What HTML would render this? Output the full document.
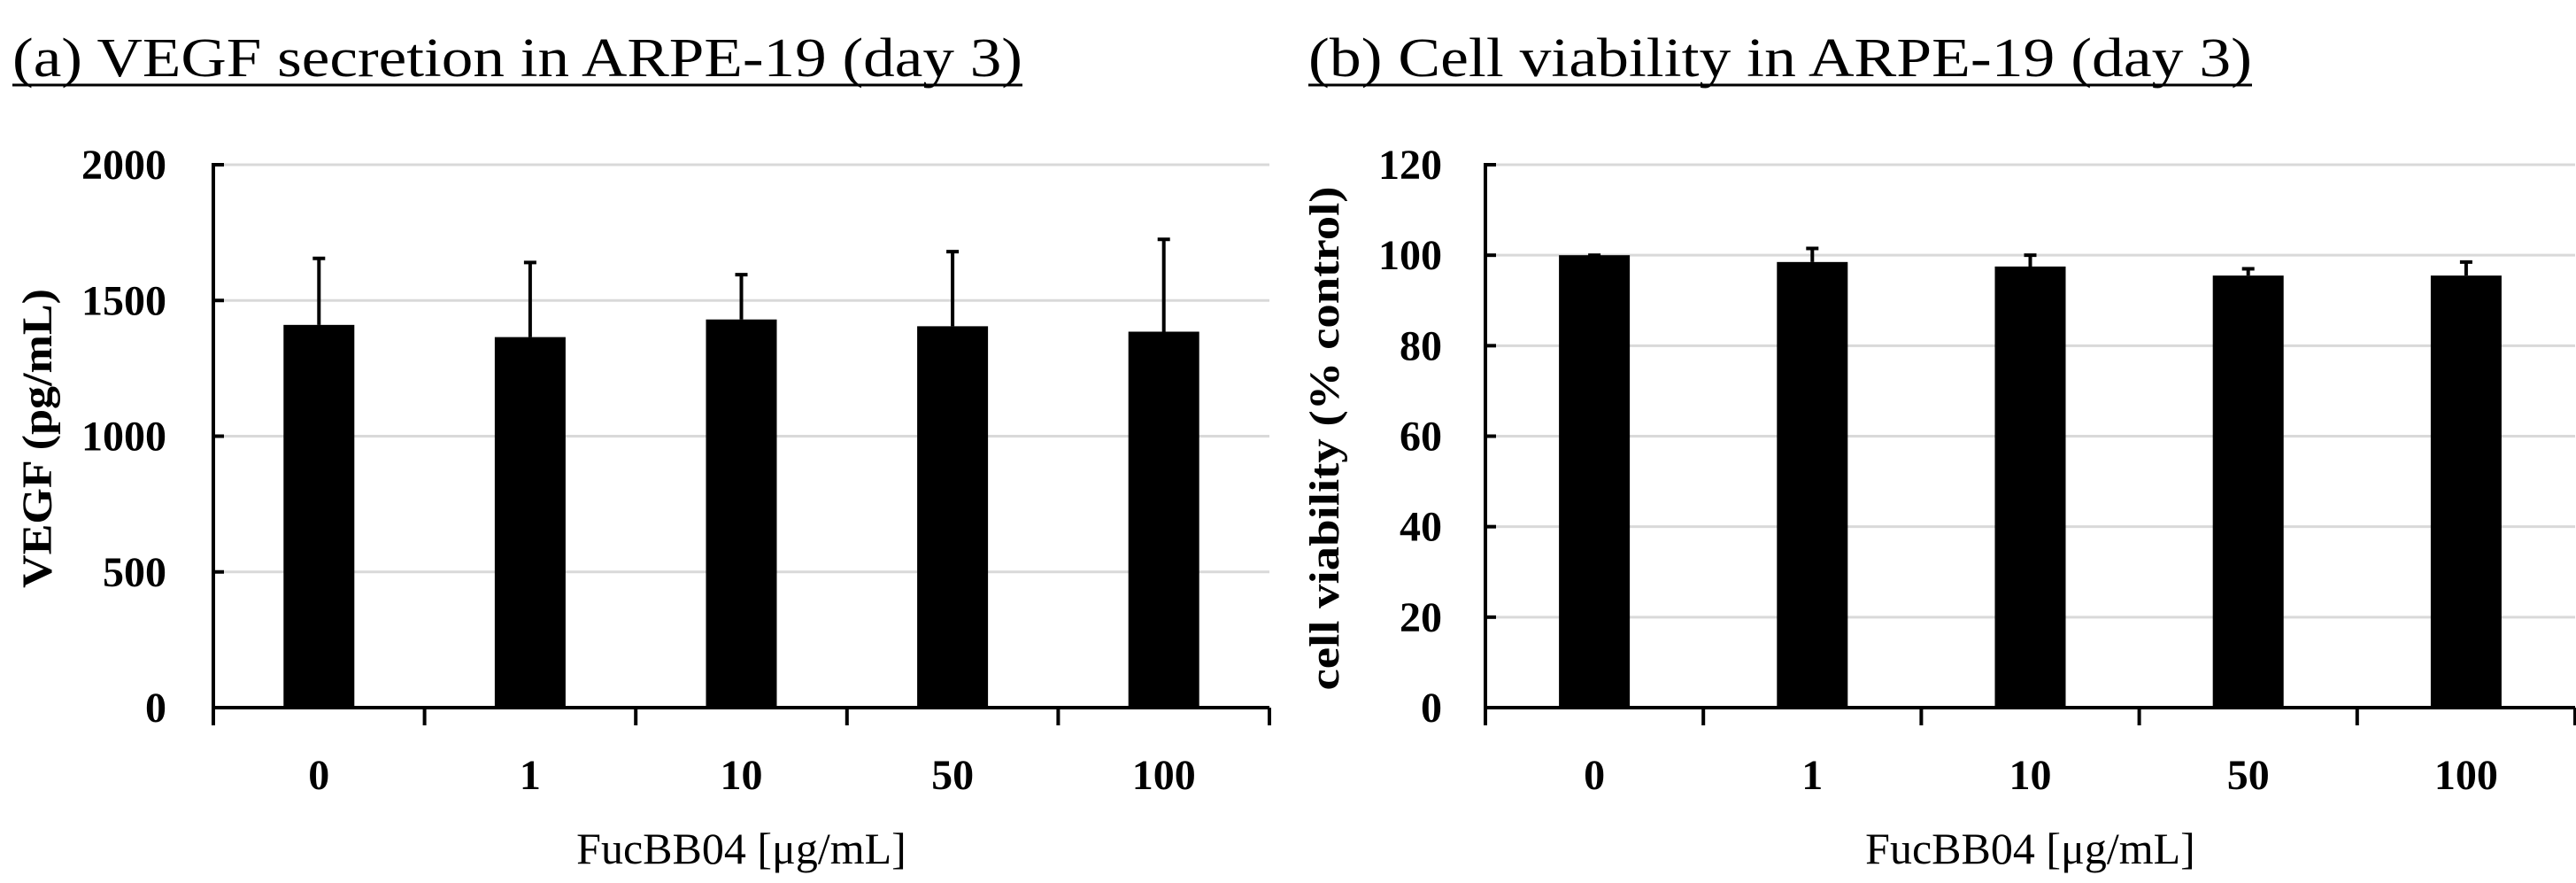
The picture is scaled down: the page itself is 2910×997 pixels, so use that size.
<!DOCTYPE html>
<html><head><meta charset="utf-8"><style>
html,body{margin:0;padding:0;background:#fff}
svg{display:block}
text{font-family:"Liberation Serif",serif;fill:#000}
</style></head><body>
<svg id="chart" width="2910" height="997" viewBox="0 0 2910 997" xmlns="http://www.w3.org/2000/svg"></svg>
<script>
const categories = ["0","1","10","50","100"];
const vegfValues = [1410,1365,1430,1405,1385];
const vegfErrTops = [1655,1640,1595,1680,1725];
const vegfTicks = [0,500,1000,1500,2000];
const viabValues = [100,98.5,97.5,95.5,95.5];
const viabErrTops = [100,101.5,100,97,98.5];
const viabTicks = [0,20,40,60,80,100,120];

const NS="http://www.w3.org/2000/svg";
const svg=document.getElementById('chart');
function mk(tag,attrs,parent){const e=document.createElementNS(NS,tag);for(const k in attrs)e.setAttribute(k,attrs[k]);(parent||svg).appendChild(e);return e;}

function panel(cfg){
  const g=mk('g',{});
  
  
  const x0=cfg.x0,x1=cfg.x1,yTop=186,yBot=799;
  const ymax=cfg.ticks[cfg.ticks.length-1];
  const ys=v=>yBot-(v/ymax)*(yBot-yTop);
  const step=(x1-x0)/categories.length;
  const xc=i=>x0+step*(i+0.5);
  const t=mk('text',{x:cfg.titleX,y:86,'font-size':62,textLength:cfg.titleW,lengthAdjust:'spacingAndGlyphs'},g);
  t.textContent=cfg.title;
  
  
  const ul=mk('line',{x1:cfg.titleX,x2:cfg.titleX+cfg.titleW,y1:96,y2:96,stroke:'#000','stroke-width':3},g);
  
  
  cfg.ticks.forEach(v=>{
    if(v>0){const gl=mk('line',{x1:x0,x2:x1,y1:ys(v),y2:ys(v),stroke:'#d9d9d9','stroke-width':3},g);
    
    }
    const tk=mk('line',{x1:x0,x2:x0+12,y1:ys(v),y2:ys(v),stroke:'#000','stroke-width':4},g);
    
    
    const lb=mk('text',{x:cfg.labelRight,y:ys(v)+16,'font-size':48,'font-weight':'bold','text-anchor':'end'},g);
    lb.textContent=v;
    
    
  });
  categories.forEach((c,i)=>{
    const bw=80;
    const b=mk('rect',{x:xc(i)-bw/2,y:ys(cfg.values[i]),width:bw,height:yBot-ys(cfg.values[i]),fill:'#000'},g);
    
    
    const eb=mk('path',{d:`M${xc(i)},${ys(cfg.values[i])}V${ys(cfg.errs[i])}M${xc(i)-7},${ys(cfg.errs[i])}H${xc(i)+7}`,stroke:'#000','stroke-width':4,fill:'none'},g);
    
    
    const cl=mk('text',{x:xc(i),y:891,'font-size':48,'font-weight':'bold','text-anchor':'middle'},g);
    cl.textContent=c;
    
    
  });
  for(let i=0;i<=categories.length;i++){
    const tk=mk('line',{x1:x0+step*i,x2:x0+step*i,y1:yBot,y2:819,stroke:'#000','stroke-width':4},g);
    
    
  }
  const ya=mk('line',{x1:x0,x2:x0,y1:yTop-2,y2:819,stroke:'#000','stroke-width':4},g);
  
  
  const xa=mk('line',{x1:x0,x2:x1,y1:yBot,y2:yBot,stroke:'#000','stroke-width':4},g);
  
  
  const xt=mk('text',{x:(x0+x1)/2,y:975,'font-size':50,'text-anchor':'middle'},g);
  xt.textContent='FucBB04 [μg/mL]';
  
  
  const yt=mk('text',{x:0,y:0,'font-size':48,'font-weight':'bold','text-anchor':'middle',transform:`translate(${cfg.ytX},${cfg.ytY}) rotate(-90)`,textLength:cfg.ytW,lengthAdjust:'spacingAndGlyphs'},g);
  yt.textContent=cfg.yTitle;
  
  
}
panel({name:'panel-a-vegf',x0:241,x1:1434,ticks:vegfTicks,values:vegfValues,errs:vegfErrTops,
  title:'(a) VEGF secretion in ARPE-19 (day 3)',titleX:14,titleW:1141,labelRight:188,
  yTitle:'VEGF (pg/mL)',ytX:58,ytY:495,ytW:338});
panel({name:'panel-b-viability',x0:1678,x1:2909,ticks:viabTicks,values:viabValues,errs:viabErrTops,
  title:'(b) Cell viability in ARPE-19 (day 3)',titleX:1478,titleW:1066,labelRight:1629,
  yTitle:'cell viability  (% control)',ytX:1512,ytY:495,ytW:569});
</script>
</body></html>
